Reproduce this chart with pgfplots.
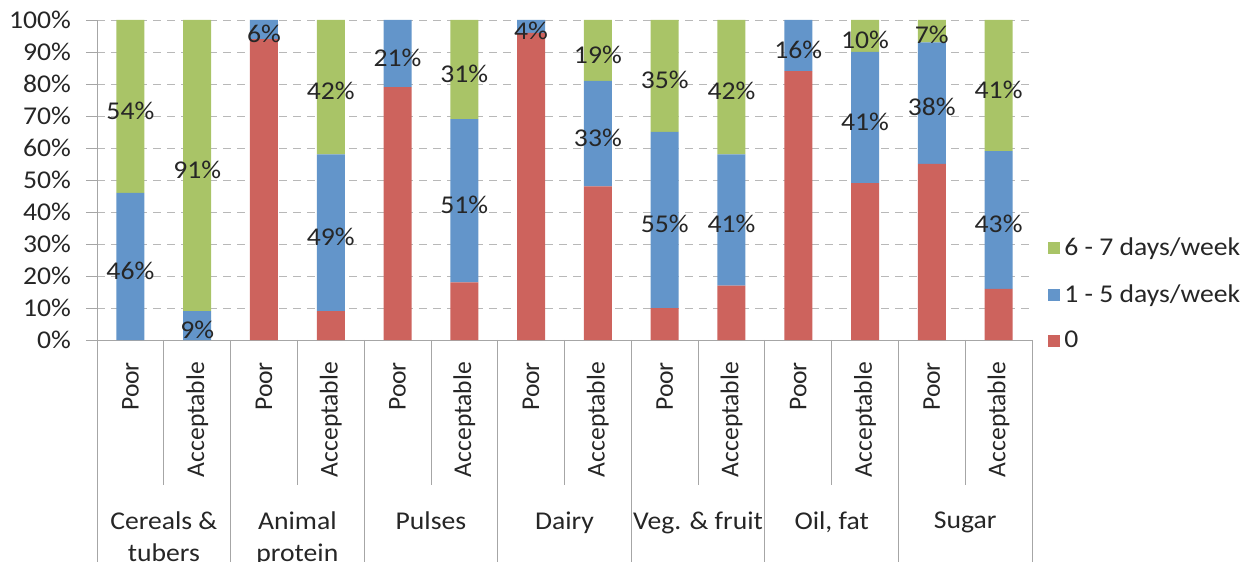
\documentclass[border=0pt]{standalone}
\usepackage{pgfplots}
\pgfplotsset{compat=1.18}
\usepackage{pgfplotstable}
\usepackage{fontspec}
\setmainfont{Carlito}[FakeStretch=1.08]
\newfontfamily\plainfont{Carlito}

\definecolor{cRed}{HTML}{CD635D}
\definecolor{cBlue}{HTML}{6395CA}
\definecolor{cGreen}{HTML}{A9C467}
\definecolor{cAxis}{HTML}{A6A6A6}
\definecolor{cText}{HTML}{262626}

% columns: bar position, share (%) eating 0 / 1-5 / 6-7 days a week
\pgfplotstableread{
x red blue green
0 0 46 54
1 0 9 91
2 94 6 0
3 9 49 42
4 79 21 0
5 18 51 31
6 96 4 0
7 48 33 19
8 10 55 35
9 17 41 42
10 84 16 0
11 49 41 10
12 55 38 7
13 16 43 41
}\data

\begin{document}
\begin{tikzpicture}[font=\fontsize{12.8}{15}\selectfont, text=cText]
\begin{axis}[
    scale only axis,
    width=467.5pt, height=160pt,
    ybar stacked,
    bar width=14pt,
    xmin=-0.5, xmax=13.5,
    ymin=0, ymax=100,
    clip=false,
    axis lines*=left,
    axis line style={draw=cAxis, -},
    xtick=data,
    xticklabels={Poor,Acceptable,Poor,Acceptable,Poor,Acceptable,Poor,Acceptable,Poor,Acceptable,Poor,Acceptable,Poor,Acceptable},
    x tick label style={rotate=90, anchor=east, xshift=-2pt, font=\plainfont\fontsize{12.8}{15}\selectfont},
    major x tick style={draw=none},
    ytick={0,10,...,100},
    yticklabels={0\%,10\%,20\%,30\%,40\%,50\%,60\%,70\%,80\%,90\%,100\%},
    y tick label style={xshift=-4pt},
    tick align=outside,
    major tick length=5.5pt,
    major y tick style={draw=cAxis},
    ymajorgrids,
    grid style={draw=cAxis!80, dashed, dash pattern=on 4pt off 3pt},
    /pgf/number format/assume math mode=true,
    reverse legend,
    legend cell align=left,
    legend style={at={(1.017,0.334)}, anchor=north west, draw=none, fill=none,
        inner sep=0pt, row sep=9pt, font=\fontsize{12.8}{15}\selectfont},
    legend image code/.code={\fill[#1] (0pt,-3pt) rectangle (6pt,3pt);},
]
\addplot[fill=cRed, draw=none] table[x=x, y=red] {\data};
\addlegendentry{0}
\addplot[fill=cBlue, draw=none,
    point meta=explicit,
    nodes near coords={\pgfmathprintnumber{\pgfplotspointmeta}\%},
    nodes near coords style={anchor=center, text=cText, yshift=-2pt},
    ] table[x=x, y=blue, meta=blue] {\data};
\addlegendentry{1 - 5 days/week}
\addplot[fill=cGreen, draw=none,
    point meta=explicit,
    nodes near coords={\pgfmathprintnumber{\pgfplotspointmeta}\%},
    nodes near coords style={anchor=center, text=cText, yshift=-2pt},
    ] table[x=x, y=green, meta=green] {\data};
\addlegendentry{6 - 7 days/week}
\coordinate (O) at (rel axis cs:0,0);
\end{axis}
% separators below the axis (one category = 467.5pt/14)
\foreach \s in {1,3,5,7,9,11,13}
    \draw[cAxis] ([xshift=\s*33.392857pt]O) -- ++(0,-72.5pt);
\foreach \s in {0,2,4,6,8,10,12,14}
    \draw[cAxis] ([xshift=\s*33.392857pt]O) -- ++(0,-115pt);
% group names
\foreach \g/\t in {1/{Cereals \&\\tubers},3/{Animal\\protein},5/Pulses,7/Dairy,
    9/Veg. \& fruit,11/{Oil, fat},13/Sugar}
    \node[anchor=north, align=center, inner sep=0pt,
        font=\fontsize{12.8}{16}\selectfont] at ([xshift=\g*33.392857pt, yshift=-85.5pt]O) {\t};
\pgfresetboundingbox
\path[use as bounding box] (O) ++(-48.5pt,-111pt) rectangle ++(622pt,281pt);
\end{tikzpicture}
\end{document}
